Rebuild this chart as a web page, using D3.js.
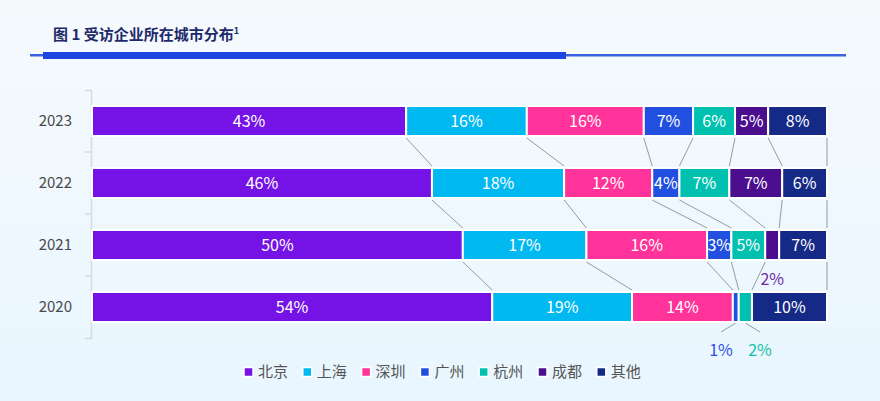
<!DOCTYPE html>
<html><head><meta charset="utf-8">
<script src="https://cdn.jsdelivr.net/npm/d3@7"></script>
<style>
html,body{margin:0;padding:0;background:#F1F8FD;}
svg{display:block;font-family:"Noto Sans CJK SC","Noto Sans",sans-serif;}
</style></head>
<body><div id="chart"></div>
<script>
// ---- data (estimated shares, %; labels show rounded values) ----
const years = ["2023","2022","2021","2020"];
const cities = ["北京","上海","深圳","广州","杭州","成都","其他"];
const beijing  = [42.7,46.3,50.4,54.4];
const shanghai = [16.4,18.0,16.8,19.0];
const shenzhen = [15.9,12.0,16.4,13.7];
const guangzhou= [6.7,3.7,3.3,0.8];
const hangzhou = [5.7,6.8,4.6,1.8];
const chengdu  = [4.5,7.2,1.9,0];
const others   = [8.0,6.1,6.5,10.2];
const colors = ["#7513E6","#00B9F1","#FF3399","#2150E0","#00C1AF","#4A0E8F","#152A87"];
const labelColors = ["#7513E6","#00B9F1","#FF3399","#2B4FE6","#14BFA8","#6E2EA6","#152A87"];

const series = [beijing,shanghai,shenzhen,guangzhou,hangzhou,chengdu,others];
const rows = years.map((y,i)=>{const o={year:y}; cities.forEach((c,j)=>o[c]=series[j][i]); return o;});

const W=880,H=401;
const svg=d3.select("#chart").append("svg").attr("width",W).attr("height",H);
const defs=svg.append("defs");
const g0=defs.append("linearGradient").attr("id","bg").attr("x1",0).attr("y1",0).attr("x2",0).attr("y2",1);
g0.append("stop").attr("offset","0%").attr("stop-color","#F5FAFD");
g0.append("stop").attr("offset","100%").attr("stop-color","#E9F6FF");
svg.append("rect").attr("width",W).attr("height",H).attr("fill","url(#bg)");

// title
const t=svg.append("text").attr("x",53).attr("y",40).attr("fill","#1F2A6B")
  .style("font-size","15px").style("font-weight","bold");
t.append("tspan").text("图 1 受访企业所在城市分布");
t.append("tspan").attr("dy",-6).style("font-size","9px").text("1");
svg.append("rect").attr("x",30).attr("y",54).attr("width",816).attr("height",2.5).attr("fill","#3A62E2");
svg.append("rect").attr("x",43).attr("y",52).attr("width",523).attr("height",7).attr("fill","#1E45E0");

// scales
const x=d3.scaleLinear().domain([0,1]).range([92,827]);
const y=d3.scaleBand().domain(years).range([90,338]).paddingInner(0.516).paddingOuter(0.258);

const stack=d3.stack().keys(cities).offset(d3.stackOffsetExpand);
const stacked=stack(rows);

// axis
const ax=svg.append("g").attr("transform","translate(91,0)")
  .call(d3.axisLeft(y).tickSize(0).tickSizeOuter(6).tickPadding(19));
ax.select(".domain").attr("stroke","#D6DADF").attr("stroke-width",1.5);
ax.selectAll("text").attr("fill","#4A4A4A").style("font-size","15px")
  .style("font-family","'Noto Sans CJK SC','Noto Sans',sans-serif");
const step=y.step();
years.slice(1).forEach(yr=>{
  const yy=y(yr)-step*y.paddingInner()/2;
  ax.append("line").attr("x1",-6).attr("x2",0).attr("y1",yy).attr("y2",yy)
    .attr("stroke","#D6DADF").attr("stroke-width",1.5);
});

// connectors
const conn=svg.append("g").attr("stroke","#9A9A9A").attr("stroke-width",1).attr("fill","none");
for(let r=0;r<years.length-1;r++){
  stacked.forEach((s,j)=>{
    const a=s[r], b=s[r+1];
    if(a.data[cities[j]]===0||b.data[cities[j]]===0) return;
    conn.append("line")
      .attr("x1",x(a[1])).attr("y1",y(years[r])+y.bandwidth()+2)
      .attr("x2",x(b[1])).attr("y2",y(years[r+1])-2);
  });
}

// bars
const gs=svg.append("g").selectAll("g").data(stacked).join("g").attr("fill",(d,i)=>colors[i]);
gs.selectAll("rect").data(d=>d.filter(p=>p[1]>p[0])).join("rect")
  .attr("x",d=>x(d[0])).attr("width",d=>x(d[1])-x(d[0]))
  .attr("y",d=>y(d.data.year)).attr("height",y.bandwidth())
  .attr("stroke","#FFFFFF").attr("stroke-width",2);

// labels
const lab=svg.append("g").style("font-size","16px");
years.forEach((yr,r)=>{
  const outs=[];
  stacked.forEach((s,j)=>{
    const p=s[r], v=p.data[cities[j]];
    if(!v) return;
    const txt=Math.round(v)+"%";
    const cx=(x(p[0])+x(p[1]))/2;
    if(v>=2.5){
      lab.append("text").attr("x",cx).attr("y",y(yr)+y.bandwidth()/2).attr("dy","0.36em")
        .attr("text-anchor","middle").attr("fill","#fff").text(txt);
    } else outs.push({cx,txt,j});
  });
  const bottom=y(yr)+y.bandwidth();
  if(outs.length===1){
    const o=outs[0];
    lab.append("text").attr("x",o.cx).attr("y",bottom+19).attr("dy","0.36em")
      .attr("text-anchor","middle").attr("fill",labelColors[o.j]).text(o.txt);
  } else if(outs.length>1){
    const mid=d3.mean(outs,o=>o.cx);
    outs.forEach((o,k)=>{
      const lx=mid+(k-(outs.length-1)/2)*39;
      conn.append("line").attr("x1",o.cx).attr("y1",bottom+1).attr("x2",lx).attr("y2",bottom+10);
      lab.append("text").attr("x",lx).attr("y",bottom+28).attr("dy","0.36em")
        .attr("text-anchor","middle").attr("fill",labelColors[o.j]).text(o.txt);
    });
  }
});

// legend
const lg=svg.append("g").attr("transform","translate(244,372)");
const li=lg.selectAll("g").data(cities).join("g").attr("transform",(d,i)=>`translate(${i*58.8},0)`);
li.append("rect").attr("x",0).attr("y",-4.5).attr("width",9).attr("height",9)
  .attr("fill",(d,i)=>colors[i]).attr("stroke","#fff").attr("stroke-width",1.5);
li.append("text").attr("x",14).attr("dy","0.36em").attr("fill","#555")
  .style("font-size","15px").text(d=>d);
</script></body></html>
